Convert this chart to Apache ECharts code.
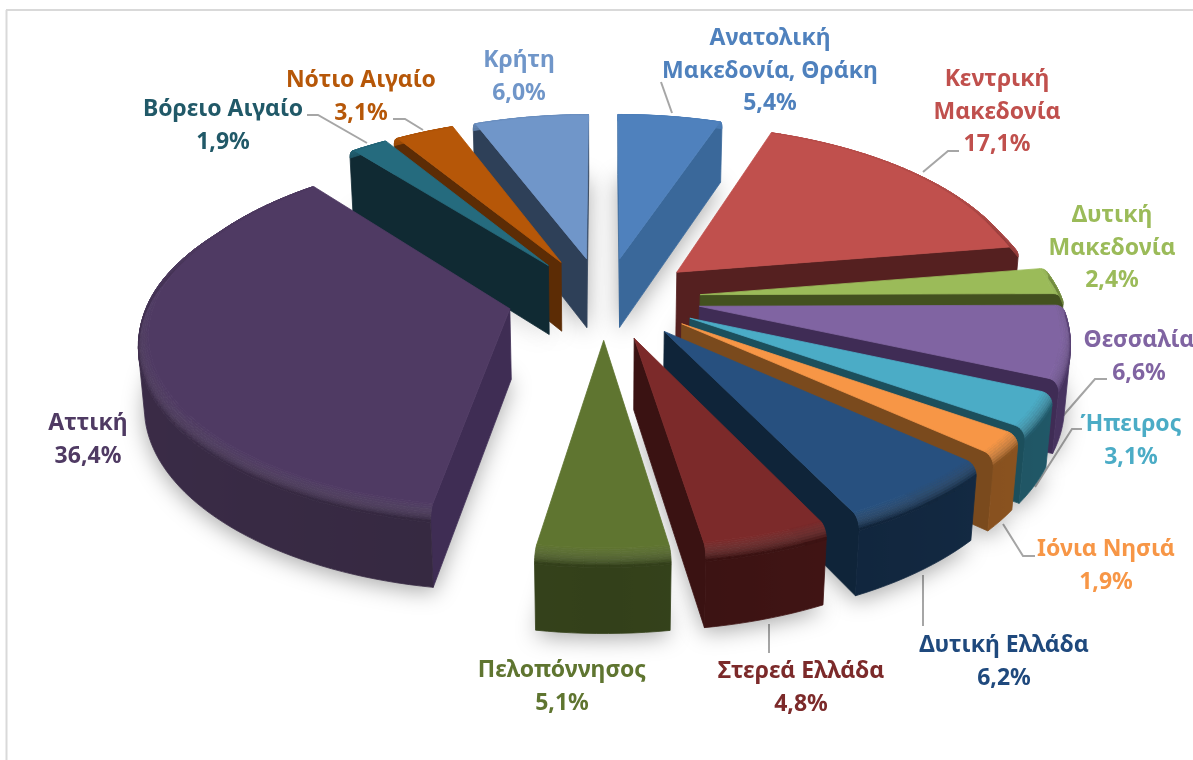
<!DOCTYPE html>
<html>
<head>
<meta charset="utf-8">
<style>
  html, body { margin: 0; background: #fff; }
  #chart { width: 1193px; height: 760px; }
</style>
</head>
<body>
<div id="chart"></div>
<script src="https://cdn.jsdelivr.net/npm/echarts@6/dist/echarts.min.js"></script>
<script>
// clockwise from 12 o'clock
const names = ['Ανατολική\nΜακεδονία, Θράκη', 'Κεντρική\nΜακεδονία', 'Δυτική\nΜακεδονία', 'Θεσσαλία', 'Ήπειρος', 'Ιόνια Νησιά',
  'Δυτική Ελλάδα', 'Στερεά Ελλάδα', 'Πελοπόννησος', 'Αττική', 'Βόρειο Αιγαίο', 'Νότιο Αιγαίο', 'Κρήτη'];
const values = [5.4, 17.1, 2.4, 6.6, 3.1, 1.9, 6.2, 4.8, 5.1, 36.4, 1.9, 3.1, 6.0];

const topColors = ['#4f81bd', '#c0504d', '#9bbb59', '#8064a2', '#4bacc6', '#f79646', '#27507f', '#7c2a2a', '#5f7530', '#4f3a63', '#256b7e', '#b65708', '#7096c9'];
const sideColors = ['#3a689a', '#552020', '#43511f', '#3f2c55', '#1c4f5c', '#7a4a1d', '#0f2439', '#3a1212', '#33401a', '#3f2d54', '#102a33', '#5c2c05', '#2e4058'];
const wallColors = ['#3a689a', '#552020', '#3f4d20', '#3a2850', '#174552', '#744518', '#0f2237', '#3a1212', '#33401a', '#352840', '#102a33', '#5c2c05', '#2e4058'];
const labelColors = ['#4f81bd', '#c0504d', '#9bbb59', '#8064a2', '#4bacc6', '#f79646', '#1f497d', '#7c2a2a', '#5f7530', '#4f3a63', '#215968', '#b65708', '#7096c9'];

// centre of each label, and its leader line
const labelPos = [[770, 71], [997, 112], [1112, 248], [1139, 357], [1131, 441], [1106, 566], [1004, 662], [801, 688], [562, 687], [88, 440], [223, 126], [361, 97], [519, 77]];
const leaders = [
  [[661, 82], [672, 113]],
  [[959, 151], [948, 151], [923, 172]],
  [[1107, 379], [1095, 379], [1062, 417]],
  [[1082, 429], [1072, 429], [1035, 487]],
  [[1035, 556], [1023, 556], [1003, 524]],
  [[923, 575], [923, 626]],
  [[769, 624], [769, 653]],
  [[307, 115], [318, 115], [367, 143]],
  [[393, 119], [405, 119], [423, 130]],
];

// camera, fitted on the picture
const cx = 604, cy = 298, F = 2540, D = 7.06;
const sinT = 0.476, cosT = 0.879;
const yScale = 1.025;
const explode = 0.265, explodeY = 0.24, height = 0.225;
const bevelR = 0.03, bevelZ = 0.035, bevelSteps = 8;

// the picture is a bit wider at the sides than a plain perspective gives
function widen(X, Y) {
  const k = Y > 0 ? 0.09 * Y * Y : (X < 0 ? 0.013 * Y * Y : 0);
  return Math.max(1, 1.015 - k);
}
function project(X, Y, Z) {
  const w = D + Y * cosT - Z * sinT;
  return [cx + widen(X, Y) * F * X / w, cy - F * (Y * sinT + Z * cosT) / w];
}
function area(p) {
  let a = 0;
  for (let i = 0; i < p.length; i++) {
    const q = p[(i + 1) % p.length];
    a += p[i][0] * q[1] - q[0] * p[i][1];
  }
  return a;
}
function poly(points, fill, stroke, extra) {
  return {
    type: 'polygon',
    shape: { points: points },
    style: Object.assign({ fill: fill, stroke: stroke, lineWidth: 0.8 }, extra || {}),
  };
}

function sliceGeom(a0, a1) {
  const mid = (a0 + a1) / 2;
  const ox = explode * Math.sin(mid), oy = explodeY * Math.cos(mid);
  const n = Math.max(2, Math.ceil((a1 - a0) / 0.03));
  const angles = [];
  for (let i = 0; i <= n; i++) angles.push(a0 + (a1 - a0) * i / n);
  const at = (t, r, z) => project(ox + r * Math.sin(t), oy + yScale * r * Math.cos(t), z);
  return { angles, at, apex: (z) => project(ox, oy, z) };
}

function renderSlice(params, api) {
  const a0 = api.value(0) / 100 * 2 * Math.PI;
  const a1 = api.value(1) / 100 * 2 * Math.PI;
  const i = api.value(2);
  const g = sliceGeom(a0, a1);
  const children = [];

  // rim profile, from the flat top down to the wall
  const rim = [];
  for (let k = 0; k <= bevelSteps; k++) {
    const u = k / bevelSteps * Math.PI / 2;
    rim.push([1 - bevelR + bevelR * Math.sin(u), -bevelZ * (1 - Math.cos(u))]);
  }

  // radial cut faces, same winding as the top outline
  const startFace = [g.apex(0)];
  rim.forEach((p) => startFace.push(g.at(a0, p[0], p[1])));
  startFace.push(g.at(a0, 1, -height), g.apex(-height));
  const endFace = [g.apex(0), g.apex(-height), g.at(a1, 1, -height)];
  rim.slice().reverse().forEach((p) => endFace.push(g.at(a1, p[0], p[1])));
  if (area([g.apex(0), g.at(a0, 1, 0), g.at(a0, 1, -height), g.apex(-height)]) < 0) {
    children.push(poly(startFace, sideColors[i], sideColors[i]));
  }
  if (area([g.at(a1, 1, 0), g.apex(0), g.apex(-height), g.at(a1, 1, -height)]) < 0) {
    children.push(poly(endFace, sideColors[i], sideColors[i]));
  }

  // outer wall: one polygon, shaded across its width
  const upper = [], lower = [], stops = [];
  for (let k = 0; k < g.angles.length - 1; k++) {
    const t1 = g.angles[k], t2 = g.angles[k + 1];
    const q = [g.at(t1, 1, -bevelZ), g.at(t2, 1, -bevelZ), g.at(t2, 1, -height), g.at(t1, 1, -height)];
    if (area(q) < 0) {
      if (!upper.length) { upper.push(q[0]); lower.push(q[3]); }
      upper.push(q[1]);
      lower.push(q[2]);
      stops.push({ x: q[0][0], color: echarts.color.lerp(Math.abs(Math.sin(t1)) * 0.2, [wallColors[i], topColors[i]]) });
    }
  }
  if (upper.length) {
    const xs = stops.map((s) => s.x);
    const x0 = Math.min.apply(null, xs), x1 = Math.max.apply(null, xs);
    const colorStops = stops.slice().sort((a, b) => a.x - b.x).map((s) => ({
      offset: x1 > x0 ? (s.x - x0) / (x1 - x0) : 0,
      color: s.color,
    }));
    const fill = new echarts.graphic.LinearGradient(x0, 0, x1 > x0 ? x1 : x0 + 1, 0, colorStops, true);
    children.push(poly(upper.concat(lower.reverse()), fill, fill));
  }

  // rounded rim, from the top colour down to the wall
  for (let s = 0; s < bevelSteps; s++) {
    const a = rim[s], b = rim[s + 1];
    const mix = Math.pow((s + 1) / bevelSteps, 1.5);
    for (let k = 0; k < g.angles.length - 1; k++) {
      const t1 = g.angles[k], t2 = g.angles[k + 1];
      const front = (1 - Math.cos((t1 + t2) / 2)) / 2;
      let col = echarts.color.lerp(mix * Math.max(front, 0.3), [topColors[i], wallColors[i]]);
      col = echarts.color.lerp(0.07 * front * Math.sin(mix * Math.PI), [col, '#ffffff']);
      children.push(poly([g.at(t1, a[0], a[1]), g.at(t2, a[0], a[1]), g.at(t2, b[0], b[1]), g.at(t1, b[0], b[1])], col, col));
    }
  }

  // top face
  const top = [g.apex(0)];
  g.angles.forEach((t) => top.push(g.at(t, 1 - bevelR, 0)));
  children.push(poly(top, topColors[i], topColors[i]));

  return { type: 'group', children: children };
}

function renderShadow(params, api) {
  const a0 = api.value(0) / 100 * 2 * Math.PI;
  const a1 = api.value(1) / 100 * 2 * Math.PI;
  const g = sliceGeom(a0, a1);
  const base = [g.apex(-height)];
  g.angles.forEach((t) => base.push(g.at(t, 1, -height)));
  return poly(base, '#ffffff', '#ffffff', { shadowBlur: 22, shadowColor: 'rgba(0,0,0,0.34)', shadowOffsetY: 5, lineWidth: 0 });
}

// start %, end %, index; back slices first so the front ones paint over them
let acc = 0;
const rows = values.map((v, i) => { const r = [acc, acc + v, i]; acc += v; return r; });
const sorted = rows.slice().sort((a, b) => {
  const m = (r) => { const c = (r[0] + r[1]) / 2; return Math.min(c, 100 - c); };
  return m(a) - m(b);
});

const graphics = [
  { type: 'line', shape: { x1: 6, y1: 10, x2: 1193, y2: 10 }, style: { stroke: '#d9d9d9', lineWidth: 2 } },
  { type: 'line', shape: { x1: 6.5, y1: 10, x2: 6.5, y2: 760 }, style: { stroke: '#d9d9d9', lineWidth: 2 } },
];
leaders.forEach((pts) => {
  graphics.push({ type: 'polyline', shape: { points: pts }, style: { stroke: '#a6a6a6', lineWidth: 2, fill: null } });
});
names.forEach((name, i) => {
  graphics.push({
    type: 'text',
    x: labelPos[i][0],
    y: labelPos[i][1],
    style: {
      text: name + '\n' + values[i].toFixed(1).replace('.', ',') + '%',
      fill: labelColors[i],
      font: 'bold 23px "Noto Sans"',
      lineHeight: 32.5,
      align: 'center',
      verticalAlign: 'middle',
    },
  });
});

const chart = echarts.init(document.getElementById('chart'));
chart.setOption({
  animation: false,
  backgroundColor: '#ffffff',
  series: [
    { type: 'custom', coordinateSystem: 'none', silent: true, z: 1, renderItem: renderShadow, data: sorted },
    { type: 'custom', coordinateSystem: 'none', silent: true, z: 2, renderItem: renderSlice, data: sorted },
  ],
  graphic: graphics,
});
</script>
</body>
</html>
